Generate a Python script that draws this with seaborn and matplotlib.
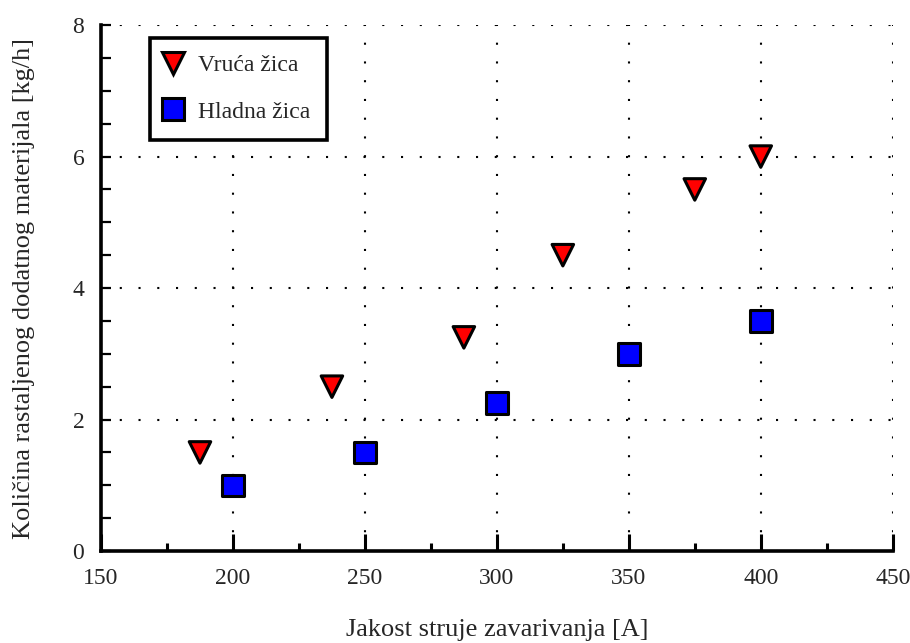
import pandas as pd
import matplotlib.pyplot as plt
import seaborn as sns
from matplotlib.ticker import MultipleLocator

# Vruća žica
struja_vruca = [187.5, 237.5, 287.5, 325, 375, 400]
kolicina_vruca = [1.5, 2.5, 3.25, 4.5, 5.5, 6.0]
# Hladna žica
struja_hladna = [200, 250, 300, 350, 400]
kolicina_hladna = [1.0, 1.5, 2.25, 3.0, 3.5]

serije = ["Vruća žica", "Hladna žica"]

df = pd.DataFrame({
    "struja": struja_vruca + struja_hladna,
    "kolicina": kolicina_vruca + kolicina_hladna,
    "serija": [serije[0]] * len(struja_vruca) + [serije[1]] * len(struja_hladna),
})

sns.set_style("white")
plt.rcParams["font.family"] = ["Liberation Serif", "DejaVu Serif"]

fig = plt.figure(figsize=(9.1, 6.43), dpi=100)
ax = fig.add_axes([0.111, 0.143, 0.87, 0.818])

sns.scatterplot(data=df, x="struja", y="kolicina", hue="serija", style="serija",
                palette={serije[0]: "#ff0000", serije[1]: "#0000ff"},
                markers={serije[0]: "v", serije[1]: "s"},
                s=240, edgecolor="black", linewidth=2.2, ax=ax, zorder=3)

ax.set_xlim(150, 450)
ax.set_ylim(0, 8)
ax.xaxis.set_major_locator(MultipleLocator(50))
ax.xaxis.set_minor_locator(MultipleLocator(25))
ax.yaxis.set_major_locator(MultipleLocator(2))
ax.yaxis.set_minor_locator(MultipleLocator(0.5))
ax.tick_params(which="both", bottom=True, left=True, top=False, right=False,
               direction="in", color="black", labelsize=17, width=2.2)
ax.tick_params(axis="x", which="major", length=12, pad=12)
ax.tick_params(axis="x", which="minor", length=6)
ax.tick_params(axis="y", which="both", length=7, width=1.6)
ax.tick_params(axis="y", which="major", pad=12)

for s in ["top", "right"]:
    ax.spines[s].set_visible(False)
for s in ["left", "bottom"]:
    ax.spines[s].set_linewidth(2.6)
    ax.spines[s].set_color("black")

ax.grid(True, which="major", color="black", linestyle=(0, (1, 8)), linewidth=1.5)

ax.set_xlabel("Jakost struje zavarivanja [A]", fontsize=19, labelpad=22)
ax.set_ylabel("Količina rastaljenog dodatnog materijala [kg/h]", fontsize=19)
ax.yaxis.set_label_coords(-0.083, 0.5)

leg = ax.legend(loc="upper left", bbox_to_anchor=(0.062, 0.976), fontsize=17,
                frameon=True, fancybox=False, edgecolor="black", framealpha=1,
                borderpad=0.72, labelspacing=1.05, handlelength=0.5, handletextpad=0.8,
                markerscale=1.0, borderaxespad=0)
leg.get_frame().set_linewidth(2.6)

plt.savefig("out.png", dpi=100)
plt.close()
